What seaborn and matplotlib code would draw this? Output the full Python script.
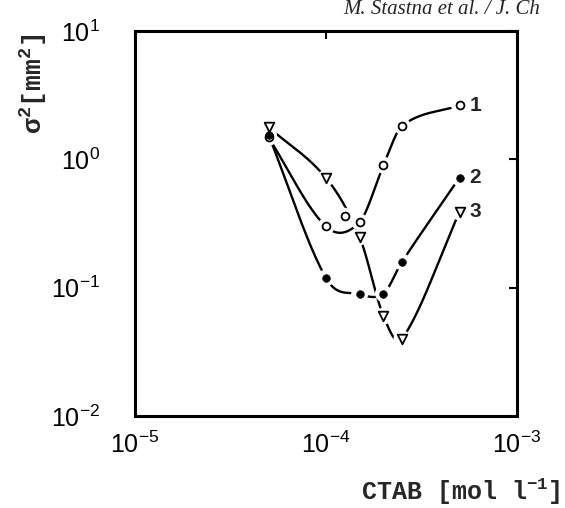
import numpy as np
import pandas as pd
import matplotlib
matplotlib.use("Agg")
import matplotlib.pyplot as plt
import seaborn as sns
from matplotlib.ticker import NullLocator, FuncFormatter

# ---- data ----
conc = [5e-5, 1e-4, 1.5e-4, 2e-4, 2.5e-4, 5e-4]
sigma1 = [1.48, 0.30, 0.325, 0.90, 1.82, 2.63]
sigma2 = [1.55, 0.119, 0.089, 0.090, 0.159, 0.72]
sigma3 = [1.78, 0.716, 0.248, 0.060, 0.040, 0.389]
extra1_conc = [1.25e-4]
extra1_sigma = [0.36]
series_labels = ["1", "2", "3"]
x_ticks = [1e-5, 1e-4, 1e-3]
y_ticks = [1e-2, 1e-1, 1e0, 1e1]
header = "M. Stastna et al. / J. Ch"

sns.set_theme(style="white")
plt.rcParams["font.family"] = ["Liberation Sans", "DejaVu Sans"]


def smooth(x, y, n=40):
    lx = np.log10(np.asarray(x, float))
    ly = np.log10(np.asarray(y, float))
    m = np.empty_like(lx)
    m[0] = (ly[1] - ly[0]) / (lx[1] - lx[0])
    m[-1] = (ly[-1] - ly[-2]) / (lx[-1] - lx[-2])
    m[1:-1] = (ly[2:] - ly[:-2]) / (lx[2:] - lx[:-2])
    xs, ys = [], []
    for i in range(len(lx) - 1):
        h = lx[i + 1] - lx[i]
        t = np.linspace(0, 1, n, endpoint=(i == len(lx) - 2))
        h00 = 2 * t**3 - 3 * t**2 + 1
        h10 = t**3 - 2 * t**2 + t
        h01 = -2 * t**3 + 3 * t**2
        h11 = t**3 - t**2
        xs.append(lx[i] + t * h)
        ys.append(h00 * ly[i] + h10 * h * m[i] + h01 * ly[i + 1] + h11 * h * m[i + 1])
    return 10 ** np.concatenate(xs), 10 ** np.concatenate(ys)


fig = plt.figure(figsize=(5.65, 5.08), dpi=100)
ax = fig.add_axes([135 / 565, 1 - 416 / 508, (517 - 135) / 565, (416 - 31) / 508])

all_series = [sigma1, sigma2, sigma3]
for s in all_series:
    cx, cy = smooth(conc, s)
    df = pd.DataFrame({"c": cx, "s": cy})
    sns.lineplot(data=df, x="c", y="s", ax=ax, sort=False, estimator=None,
                 color="black", linewidth=1.7, zorder=2)

# white halos to break the lines near markers
halo = pd.DataFrame({"c": conc * 3 + extra1_conc,
                     "s": sigma1 + sigma2 + sigma3 + extra1_sigma})
sns.scatterplot(data=halo, x="c", y="s", ax=ax, s=150, color="white",
                edgecolor="none", linewidth=0, zorder=3)

d1 = pd.DataFrame({"c": conc + extra1_conc, "s": sigma1 + extra1_sigma})
sns.scatterplot(data=d1, x="c", y="s", ax=ax, marker="o", s=32,
                facecolor="white", edgecolor="black", linewidth=1.3, zorder=4)
d2 = pd.DataFrame({"c": conc, "s": sigma2})
sns.scatterplot(data=d2, x="c", y="s", ax=ax, marker="o", s=30,
                color="black", edgecolor="black", linewidth=0.5, zorder=4)
d3 = pd.DataFrame({"c": conc, "s": sigma3})
sns.scatterplot(data=d3, x="c", y="s", ax=ax, marker="v", s=48,
                facecolor="white", edgecolor="black", linewidth=1.3, zorder=4)

for lab, s in zip(series_labels, all_series):
    ax.annotate(lab, (conc[-1], s[-1]), xytext=(7, 0), textcoords="offset points",
                ha="left", va="center", fontsize=15, fontweight="bold",
                family=["Liberation Sans"])

ax.set_xscale("log")
ax.set_yscale("log")
ax.set_xlim(1e-5, 1e-3)
ax.set_ylim(1e-2, 1e1)
ax.set_xticks(x_ticks)
ax.set_yticks(y_ticks)
ax.xaxis.set_minor_locator(NullLocator())
ax.yaxis.set_minor_locator(NullLocator())
fmt = FuncFormatter(lambda v, p: r"$\mathdefault{10^{%d}}$" % int(round(np.log10(v))))
ax.xaxis.set_major_formatter(fmt)
ax.yaxis.set_major_formatter(fmt)
ax.set_xlabel("")
ax.set_ylabel("")
ax.tick_params(axis="both", which="major", direction="in", top=True, right=True,
               length=6, width=1.5, color="black", labelsize=18, labelcolor="black")
ax.tick_params(axis="y", pad=25)
ax.tick_params(axis="x", pad=11)
for sp in ax.spines.values():
    sp.set_visible(True)
    sp.set_linewidth(2.2)
    sp.set_color("black")
ax.grid(False)

fig.text(560 / 565, 1 - 492 / 508, r"CTAB [mol l$^{\mathdefault{-1}}$]",
         ha="right", va="center", fontsize=18, fontweight="bold",
         family=["Liberation Mono", "DejaVu Sans Mono"])
fig.text(33 / 565, 1 - 84 / 508, r"σ$^{\mathdefault{2}}$[mm$^{\mathdefault{2}}$]",
         ha="center", va="center", rotation=90, fontsize=19, fontweight="bold",
         family=["Liberation Mono", "DejaVu Sans Mono"])
fig.text(343 / 565, 1 - 9 / 508, header, ha="left", va="center", fontsize=15,
         style="italic", family=["Liberation Serif", "DejaVu Serif"])

fig.savefig("out.png", dpi=100, facecolor="white")
